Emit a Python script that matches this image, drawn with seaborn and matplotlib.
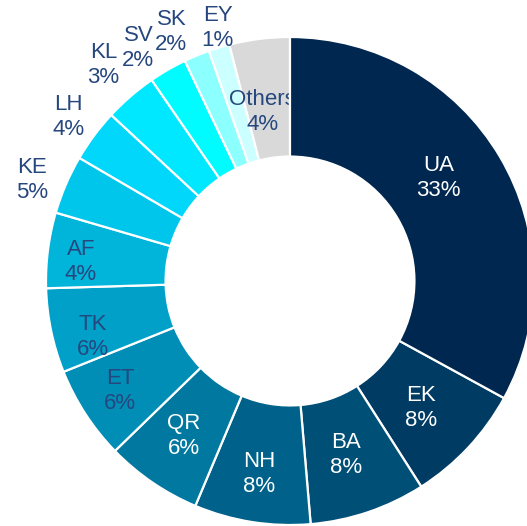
import matplotlib
matplotlib.use("Agg")
import matplotlib.pyplot as plt
import seaborn as sns
import numpy as np

# ── Data ─────────────────────────────────────────────────────────────
carriers = ["UA", "EK", "BA", "NH", "QR", "ET", "TK", "AF",
            "KE", "LH", "KL", "SV", "SK", "EY", "Others"]
shares = [33.0, 8.0, 7.7, 7.7, 6.4, 6.2, 5.6, 5.0,
          3.9, 3.5, 3.5, 2.5, 1.7, 1.4, 4.0]
share_labels = ["33%", "8%", "8%", "8%", "6%", "6%", "6%", "4%",
                "5%", "4%", "3%", "2%", "2%", "1%", "4%"]
outside = ["KE", "LH", "KL", "SV", "SK", "EY"]

# ── Style ────────────────────────────────────────────────────────────
sns.set_theme(style="white")
plt.rcParams["font.family"] = ["Liberation Sans Narrow", "Liberation Sans", "DejaVu Sans"]

colors = ["#00274f", "#003b63", "#004f77", "#00628a", "#00789f", "#008db6",
          "#00a0c9", "#00b4da", "#00c6ec", "#00d7fa", "#00e8ff", "#00fcff",
          "#8cffff", "#ccffff", "#d9d9d9"]
light_text = {"UA", "EK", "BA", "NH", "QR"}
navy_text = "#26477e"

# label placement: (angle shift in deg, radius) per label, default below
label_place = {"UA": (4, 0.74), "EK": (-1, 0.75), "BA": (-1, 0.75),
               "NH": (0, 0.80), "ET": (0, 0.83), "TK": (4, 0.84),
               "AF": (2, 0.86), "Others": (2, 0.70),
               "KE": (2, 1.135), "KL": (0, 1.17), "SV": (3, 1.14),
               "SK": (3, 1.13), "EY": (-1, 1.08)}

fig = plt.figure(figsize=(5.27, 5.26), dpi=100)
ax = fig.add_axes([0, 0, 1, 1])

wedges, _ = ax.pie(
    shares, colors=colors, startangle=90, counterclock=False,
    radius=1.0,
    wedgeprops=dict(width=0.49, edgecolor="white", linewidth=1.6),
)
wedges[0].set_zorder(3)   # UA wedge overlaps the "Others" label a bit

for w, name, lab in zip(wedges, carriers, share_labels):
    shift, r = label_place.get(name, (0, 1.13 if name in outside else 0.77))
    ang = np.deg2rad((w.theta1 + w.theta2) / 2 + shift)
    col = "white" if name in light_text else navy_text
    ax.text(r * np.cos(ang), r * np.sin(ang), f"{name}\n{lab}",
            ha="center", va="center", fontsize=16, color=col,
            linespacing=1.25, zorder=2.5 if name == "Others" else 4)

# centre of ring sits at (290, 281) px, radius 244 px
ax.set_xlim(-290 / 244, 237 / 244)
ax.set_ylim(-245 / 244, 281 / 244)
ax.set_aspect("auto")
ax.axis("off")

plt.savefig("out.png", dpi=100)
